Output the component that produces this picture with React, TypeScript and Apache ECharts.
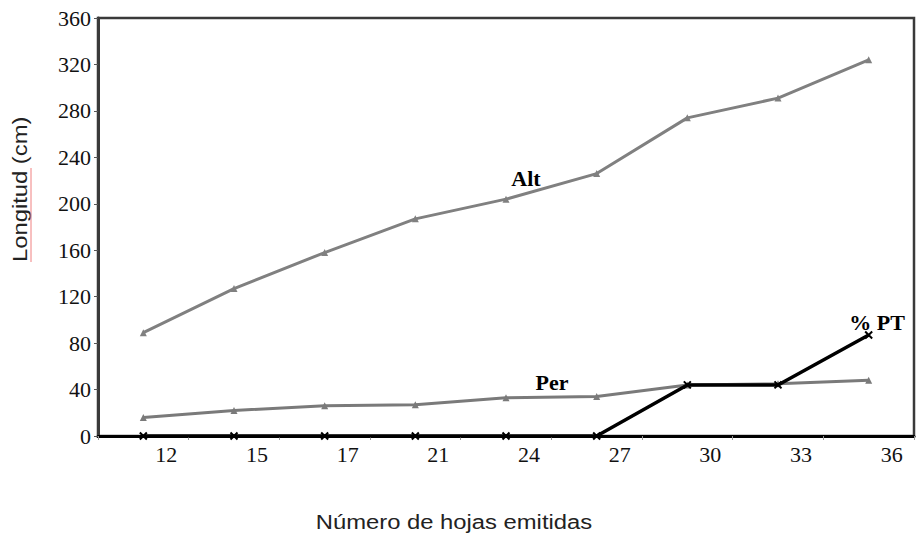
import React, { useEffect, useRef } from "react";
import * as echarts from "echarts";

const categories = ["12", "15", "17", "21", "24", "27", "30", "33", "36"];
const altValues = [89, 127, 158, 187, 204, 226, 274, 291, 324];
const perValues = [16, 22, 26, 27, 33, 34, 44, 45, 48];
const ptValues = [0, 0, 0, 0, 0, 0, 44, 44, 87];
const yTicks = { min: 0, max: 360, interval: 40 };

export default function App() {
  const ref = useRef<HTMLDivElement>(null);
  useEffect(() => {
    if (!ref.current) return;
    const chart = echarts.init(ref.current, undefined, { renderer: "svg" });
    const serif = "Liberation Serif";
    const sans = "Liberation Sans";
    const crossPath = "path://M0,0L10,10M10,0L0,10";
    chart.setOption({
      animation: false,
      backgroundColor: "#ffffff",
      textStyle: { fontFamily: serif },
      grid: {
        left: 98,
        right: 5,
        top: 18,
        bottom: 101,
        show: true,
        borderColor: "#3a3a3a",
        borderWidth: 2.5,
        backgroundColor: "transparent",
      },
      xAxis: {
        type: "category",
        data: categories,
        boundaryGap: true,
        axisLine: { lineStyle: { color: "#000", width: 3 } },
        axisTick: { show: true, length: 4, lineStyle: { color: "#999", width: 1 } },
        axisLabel: {
          fontFamily: serif,
          fontSize: 22,
          color: "#111",
          margin: 7,
          padding: [0, 0, 0, 46],
        },
        splitLine: { show: false },
      },
      yAxis: {
        type: "value",
        min: yTicks.min,
        max: yTicks.max,
        interval: yTicks.interval,
        axisLine: { show: true, lineStyle: { color: "#3a3a3a", width: 3 } },
        axisTick: { show: true, length: 4, lineStyle: { color: "#555", width: 1 } },
        axisLabel: { fontFamily: serif, fontSize: 22, color: "#111", margin: 7 },
        splitLine: { show: false },
      },
      series: [
        {
          name: "Alt",
          type: "line",
          data: altValues,
          lineStyle: { color: "#808080", width: 3 },
          itemStyle: { color: "#808080" },
          symbol: "triangle",
          symbolSize: 7,
          z: 3,
        },
        {
          name: "Per",
          type: "line",
          data: perValues,
          lineStyle: { color: "#7a7a7a", width: 3 },
          itemStyle: { color: "#7a7a7a" },
          symbol: "triangle",
          symbolSize: 7,
          z: 3,
        },
        {
          name: "% PT",
          type: "line",
          data: ptValues,
          lineStyle: { color: "#000", width: 3.5 },
          itemStyle: { color: "#000", borderColor: "#000", borderWidth: 2 },
          symbol: crossPath,
          symbolSize: 7,
          z: 4,
        },
      ],
      graphic: [
        {
          type: "text",
          rotation: Math.PI / 2,
          style: {
            text: "Longitud (cm)",
            font: `20px ${sans}`,
            fill: "#222",
          },
          x: 10,
          y: 262,
          scaleX: 1.19,
        },
        {
          type: "line",
          shape: { x1: 31, y1: 168, x2: 31, y2: 262 },
          style: { stroke: "#f08080", lineWidth: 1 },
        },
        {
          type: "text",
          x: 454,
          y: 522,
          scaleX: 1.19,
          style: {
            text: "Número de hojas emitidas",
            font: `20px ${sans}`,
            fill: "#222",
            align: "center",
            verticalAlign: "middle",
          },
        },
        {
          type: "text",
          x: 526,
          y: 178,
          style: {
            text: "Alt",
            font: `bold 22px ${serif}`,
            fill: "#000",
            align: "center",
            verticalAlign: "middle",
          },
        },
        {
          type: "text",
          x: 552,
          y: 382,
          style: {
            text: "Per",
            font: `bold 22px ${serif}`,
            fill: "#000",
            align: "center",
            verticalAlign: "middle",
          },
        },
        {
          type: "text",
          x: 877,
          y: 322,
          style: {
            text: "% PT",
            font: `bold 22px ${serif}`,
            fill: "#000",
            align: "center",
            verticalAlign: "middle",
          },
        },
      ],
    });
    return () => chart.dispose();
  }, []);
  return (
    <div
      ref={ref}
      style={{ position: "absolute", left: 0, top: 0, width: 919, height: 537 }}
    />
  );
}
